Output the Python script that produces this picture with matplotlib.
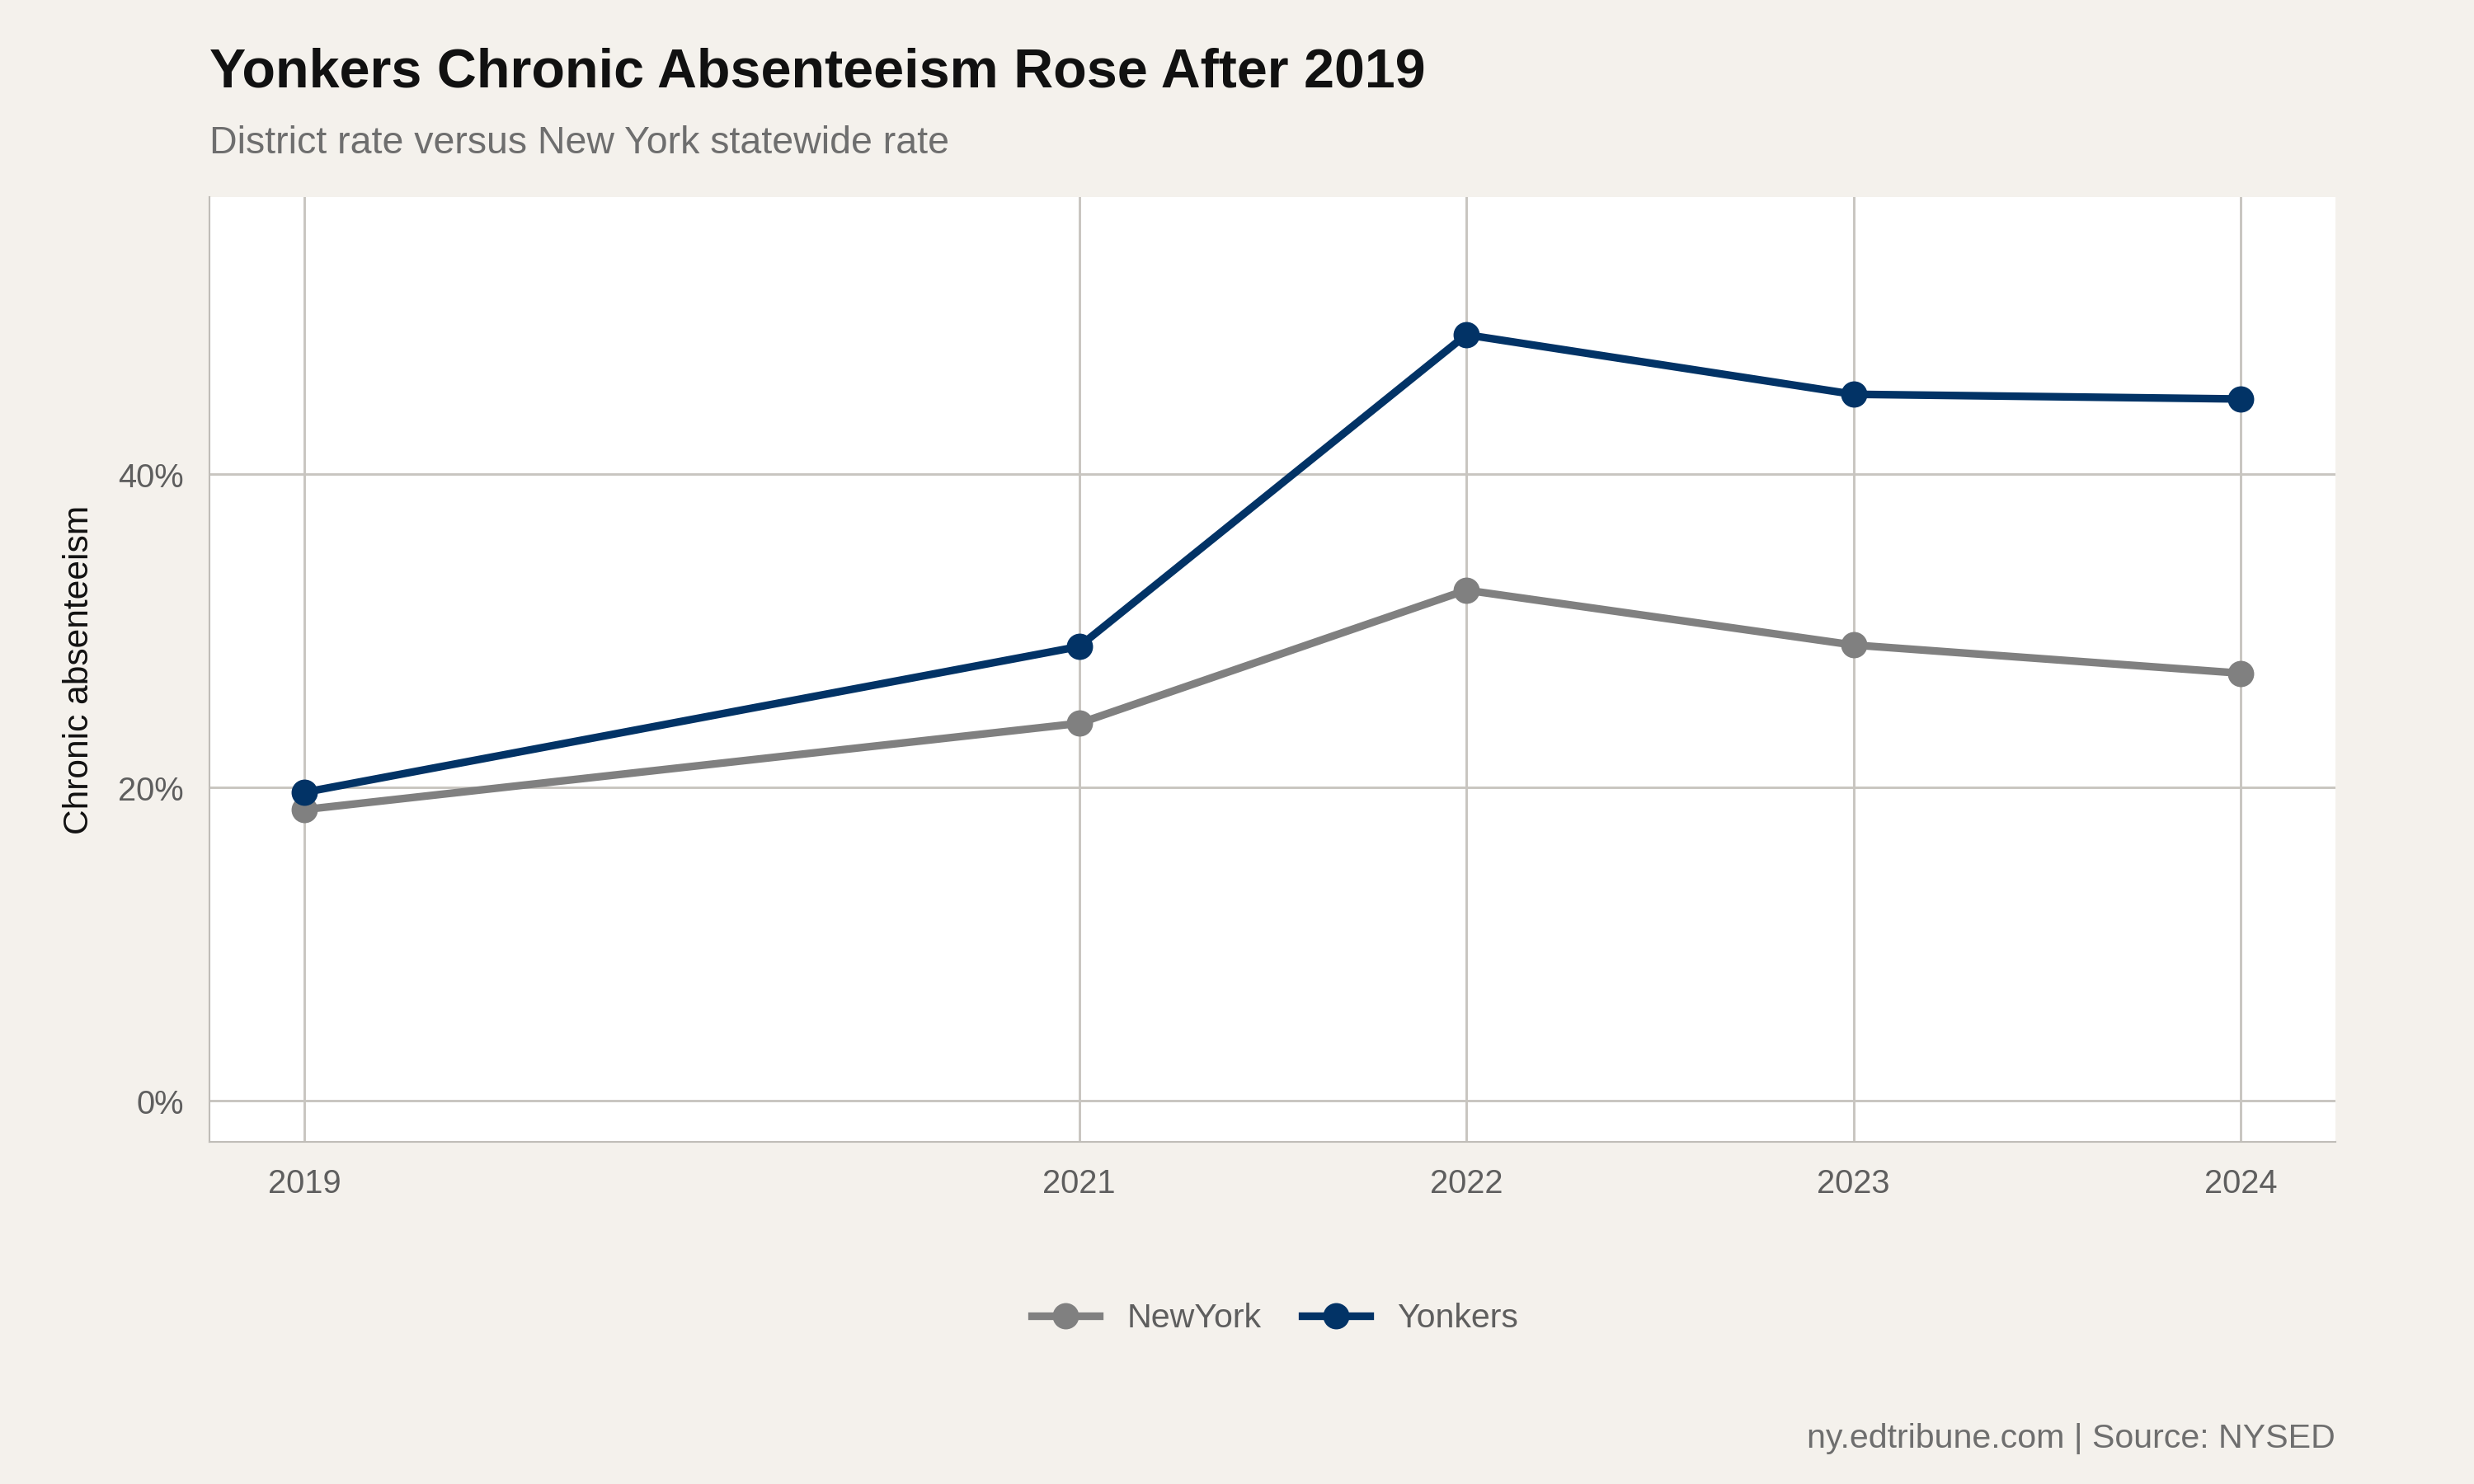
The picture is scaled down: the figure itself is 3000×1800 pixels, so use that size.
import matplotlib
matplotlib.use("Agg")
import matplotlib.pyplot as plt
from matplotlib.ticker import PercentFormatter

years = [2019, 2021, 2022, 2023, 2024]
newyork = [18.6, 24.1, 32.6, 29.1, 27.3]
yonkers = [19.7, 29.0, 48.9, 45.1, 44.8]
yticks = [0, 20, 40]

plt.rcParams['font.family'] = ['Liberation Sans', 'DejaVu Sans']
W, H = 15.68, 9.41
fig = plt.figure(figsize=(W, H), dpi=3000 / W, facecolor='#F4F1EC')
ax = fig.add_axes([133 / 1568, 1 - 724 / 941, (1480 - 133) / 1568, (724 - 125) / 941])
ax.set_facecolor('white')
ax.plot(years, newyork, color='#808080', lw=3.5, marker='o', ms=11, label='NewYork', zorder=3)
ax.plot(years, yonkers, color='#023366', lw=3.5, marker='o', ms=11, label='Yonkers', zorder=3)
ax.set_xlim(2018.755, 2024.244)
ax.set_ylim(-2.6, 57.7)
ax.set_xticks(years)
ax.set_yticks(yticks)
ax.yaxis.set_major_formatter(PercentFormatter(decimals=0))
ax.grid(True, color='#C8C5C0', lw=1.1, zorder=0)
for s in ['top', 'right']:
    ax.spines[s].set_visible(False)
for s in ['left', 'bottom']:
    ax.spines[s].set_color('#C0BDB8')
ax.tick_params(length=0, labelsize=15, labelcolor='#5E5E5E', pad=12)
ax.set_ylabel('Chronic absenteeism', fontsize=16, color='#111111', labelpad=10)

fig.text(133 / 1568, 1 - 46 / 941, 'Yonkers Chronic Absenteeism Rose After 2019',
         fontsize=25, fontweight='bold', color='#111111', va='center')
fig.text(133 / 1568, 1 - 91 / 941, 'District rate versus New York statewide rate',
         fontsize=17.5, color='#6E6E6E', va='center')
fig.text(1480 / 1568, 1 - 912 / 941, 'ny.edtribune.com | Source: NYSED',
         fontsize=15.5, color='#6E6E6E', va='center', ha='right')
leg = fig.legend(loc='center', bbox_to_anchor=(808 / 1568, 1 - 836 / 941), ncol=2,
                 frameon=False, fontsize=15.5, handlelength=2, columnspacing=1.2)
for t in leg.get_texts():
    t.set_color('#5E5E5E')
fig.savefig('out.png', dpi=3000 / W, facecolor=fig.get_facecolor())
